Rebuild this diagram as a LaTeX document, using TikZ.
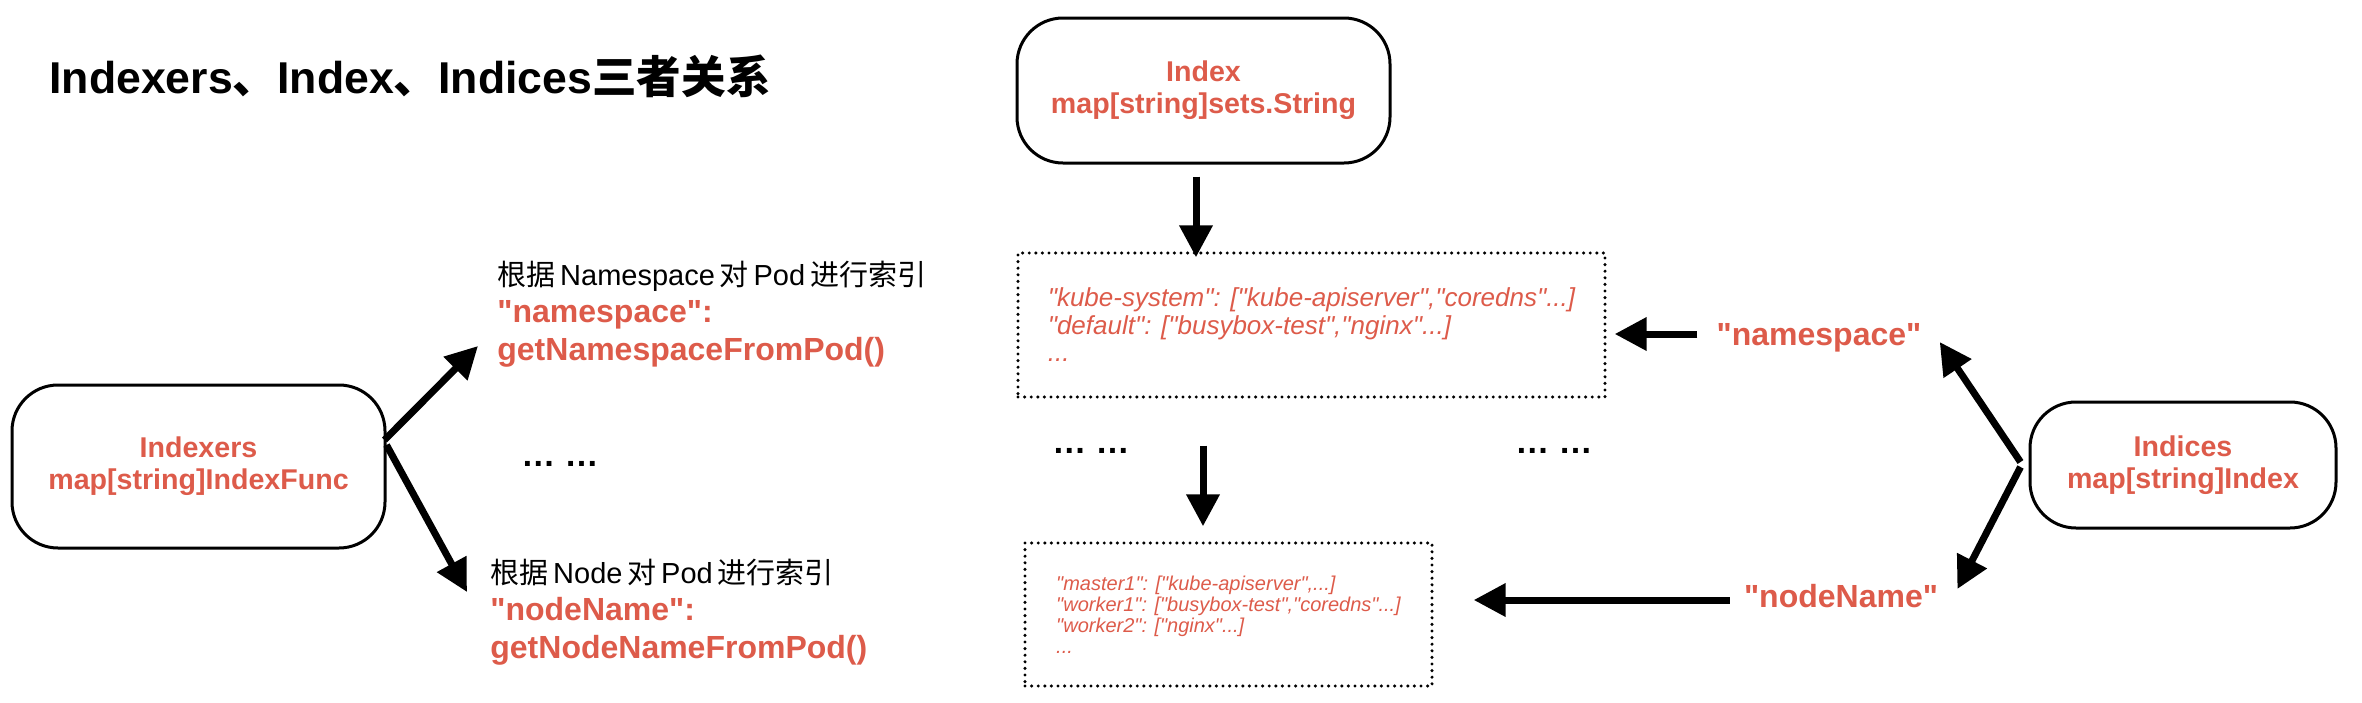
\documentclass[tikz,border=0pt]{standalone}
\usepackage{fontspec}
\setmainfont{Liberation Sans}[Ligatures=TeXOff]
\newfontfamily\cjk{Noto Sans CJK SC}
\usetikzlibrary{arrows.meta,calc}
\definecolor{kred}{RGB}{221,91,74}
\newcommand\zh[1]{{\cjk #1}}
\tikzset{
 rbox/.style={draw, line width=1.5pt, rounded corners=23pt, text=kred, align=center, font=\fontsize{14.3}{16}\selectfont\bfseries, inner sep=0pt},
 dotbox/.style={draw, line width=1.7pt, dash pattern=on 0pt off 3.3pt, line cap=round, text=kred, align=left, inner sep=0pt},
 arr/.style={line width=3.5pt, -{Triangle[length=16pt,width=16pt]}},
 blk/.style={anchor=base west, inner sep=0pt, font=\fontsize{14.5}{16}\selectfont},
 rlbl/.style={anchor=base west, inner sep=0pt, text=kred, font=\fontsize{16}{18}\selectfont\bfseries},
 rlblc/.style={rlbl, anchor=base},
 dotstxt/.style={anchor=base, inner sep=0pt, font=\fontsize{17}{18}\selectfont\bfseries},
}
\begin{document}
\begin{tikzpicture}[x=0.5pt,y=-0.5pt]
\useasboundingbox (0,0) rectangle (2362,702);
% title
\node[anchor=base west, inner sep=0pt, font=\fontsize{22.3}{24}\selectfont\bfseries] (title) at (49,93) {Indexers\zh{、}Index\zh{、}Indices\zh{三者关系}};
% boxes
\node[rbox, minimum width=186.5pt, minimum height=72.5pt] (idx) at (1203.5,90.5) {Index\\map[string]sets.String};
\node[rbox, minimum width=186.5pt, minimum height=81.5pt] (ixr) at (198.5,466.5) {Indexers\\map[string]IndexFunc};
\node[rbox, minimum width=153pt, minimum height=63pt] (ics) at (2183,465) {Indices\\map[string]Index};
\node[dotbox, minimum width=293.5pt, minimum height=72pt, font=\fontsize{13}{13.75}\selectfont\itshape] (m1) at (1311.5,325) {"kube-system": ["kube-apiserver","coredns"...]\\"default": ["busybox-test","nginx"...]\\...};
\node[dotbox, minimum width=203.5pt, minimum height=71.5pt, font=\fontsize{10}{10.5}\selectfont\itshape] (m2) at (1228.5,614.5) {"master1": ["kube-apiserver",...]\\"worker1": ["busybox-test","coredns"...]\\"worker2": ["nginx"...]\\...};
% left labels
\node[blk] (A1) at (497,285) {\zh{根据}\,Namespace\,\zh{对}\,Pod\,\zh{进行索引}};
\node[rlbl] (A2) at (497,322) {"namespace":};
\node[rlbl] (A3) at (497,360) {getNamespaceFromPod()};
\node[blk] (B1) at (490,583) {\zh{根据}\,Node\,\zh{对}\,Pod\,\zh{进行索引}};
\node[rlbl] (B2) at (490,620) {"nodeName":};
\node[rlbl] (B3) at (490,658) {getNodeNameFromPod()};
% right labels
\node[rlblc] (ns) at (1819,345) {"namespace"};
\node[rlblc] (nn) at (1841,607) {"nodeName"};
% ellipses
\node[dotstxt] (dl) at (560,466) {…\ …};
\node[dotstxt] (dm) at (1091,453) {…\ …};
\node[dotstxt] (dr) at (1554,453) {…\ …};
% arrows
\draw[arr] ($(idx.south)+(-7.5,12)$) -- ($(m1.north -| idx.south)+(-7.5,6)$);
\draw[arr] ($(m1.south -| m2.north)+(-25.5,47)$) -- ($(m2.north)+(-25.5,-15)$);
\draw[arr] ($(ns.base west)+(-19,-11)$) -- ($(m1.east)+(8,9)$);
\draw[arr] ($(nn.base west)+(-14,-7)$) -- ($(m2.east)+(40,-14.5)$);
\draw[arr] ($(ics.west)+(-8,-3)$) -- ($(ns.base east)+(18,-3)$);
\draw[arr] ($(ics.west)+(-8,2)$) -- ($(nn.base east)+(19,-18)$);
\draw[arr] ($(ixr.east)+(-2,-26.5)$) -- ($(A3.base west)+(-19,-14)$);
\draw[arr] ($(ixr.east)+(0,-21.5)$) -- ($(B1.base west)+(-23,9)$);
\end{tikzpicture}
\end{document}
